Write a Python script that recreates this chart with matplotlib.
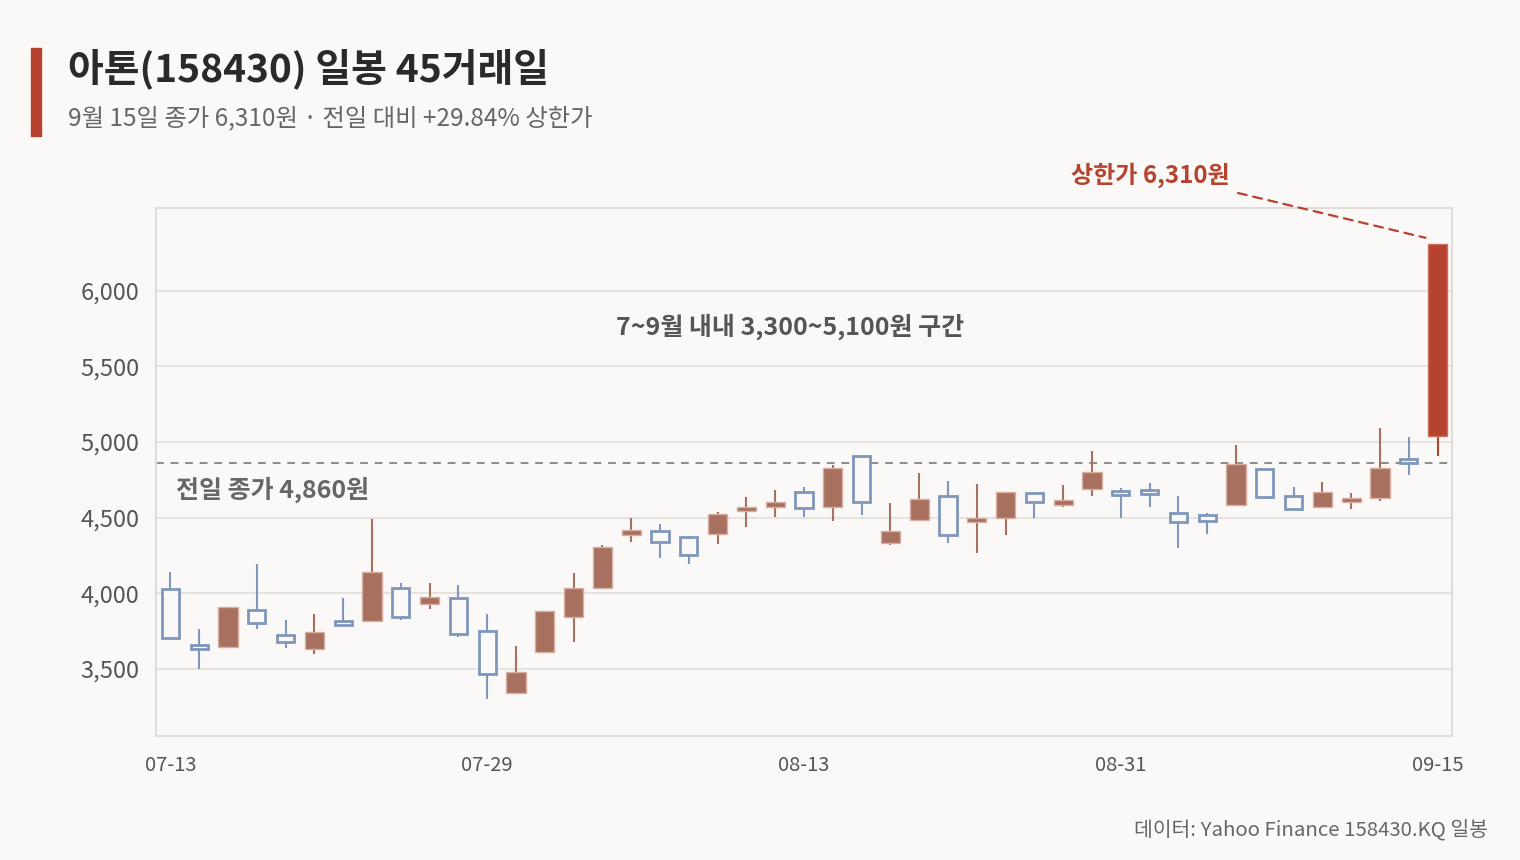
import matplotlib
matplotlib.use('Agg')
import matplotlib.pyplot as plt
from matplotlib.patches import Rectangle

plt.rcParams['font.family'] = ['Noto Sans CJK KR', 'DejaVu Sans']

# daily candles, 45 trading days
dates = ['07-13', '07-14', '07-15', '07-16', '07-20', '07-21', '07-22', '07-23', '07-24', '07-27',
         '07-28', '07-29', '07-30', '07-31', '08-03', '08-04', '08-05', '08-06', '08-07', '08-10',
         '08-11', '08-12', '08-13', '08-14', '08-18', '08-19', '08-20', '08-21', '08-24', '08-25',
         '08-26', '08-27', '08-28', '08-31', '09-01', '09-02', '09-03', '09-04', '09-07', '09-08',
         '09-09', '09-10', '09-11', '09-14', '09-15']
opens = [4025, 3655, 3645, 3890, 3720, 3630, 3815, 3815, 4035, 3930,
         3970, 3750, 3340, 3610, 3845, 4035, 4385, 4410, 4370, 4390,
         4545, 4570, 4670, 4570, 4910, 4330, 4485, 4645, 4470, 4495,
         4660, 4580, 4690, 4675, 4685, 4530, 4515, 4580, 4820, 4640,
         4570, 4605, 4630, 4885, 5040]
highs = [4140, 3765, 3905, 4190, 3825, 3860, 3970, 4490, 4070, 4065,
         4055, 3865, 3650, 3885, 4135, 4320, 4495, 4455, 4375, 4535,
         4635, 4685, 4700, 4850, 4910, 4595, 4795, 4740, 4720, 4670,
         4660, 4715, 4940, 4695, 4730, 4640, 4530, 4980, 4820, 4700,
         4735, 4660, 5095, 5035, 6310]
lows = [3690, 3495, 3645, 3760, 3635, 3595, 3790, 3815, 3825, 3895,
        3710, 3300, 3340, 3610, 3675, 4035, 4335, 4230, 4190, 4325,
        4440, 4505, 4505, 4480, 4515, 4320, 4485, 4330, 4265, 4385,
        4500, 4570, 4645, 4500, 4570, 4300, 4390, 4580, 4625, 4555,
        4565, 4555, 4610, 4780, 4910]
closes = [3705, 3630, 3905, 3805, 3675, 3745, 3790, 4140, 3845, 3975,
          3730, 3465, 3475, 3885, 4035, 4305, 4420, 4335, 4255, 4525,
          4570, 4605, 4560, 4830, 4600, 4410, 4625, 4385, 4500, 4670,
          4605, 4615, 4800, 4650, 4655, 4470, 4480, 4855, 4635, 4555,
          4670, 4630, 4830, 4860, 6310]
prev_close = 4860
limit_close = 6310
yticks = [3500, 4000, 4500, 5000, 5500, 6000]

bg = '#faf9f7'
up_c = '#a8705f'
up_edge = '#d6aea2'
down_c = '#7f97bc'
hot_c = '#b5432f'
grid_c = '#e6e3df'

fig = plt.figure(figsize=(15.2, 8.6), dpi=100, facecolor=bg)
ax = fig.add_axes([156/1520, 124/860, 1296/1520, 528/860], facecolor=bg)

w = 0.66
for i in range(len(dates)):
    o, h, l, c = opens[i], highs[i], lows[i], closes[i]
    if i == len(dates) - 1:
        col, fc, ec = hot_c, hot_c, '#c9705e'
    elif c >= o:
        col, fc, ec = up_c, up_c, up_edge
    else:
        col, fc, ec = down_c, bg, down_c
    ax.vlines(i, l, h, color=col, lw=1.5, zorder=2)
    lo, hi = min(o, c), max(o, c)
    if c >= o:
        ax.bar(i, hi - lo, bottom=lo, width=w, color=fc, edgecolor=ec, lw=1.0, zorder=3)
    else:
        ax.bar(i, hi - lo, bottom=lo, width=w - 0.06, color=fc, edgecolor=ec, lw=2.0, zorder=3)

ax.axhline(prev_close, color='#8c8c8c', lw=1.4, ls=(0, (4, 3.5)), zorder=1.5)

ax.set_xlim(-0.5, len(dates) - 0.5)
ax.set_ylim(3055, 6547)
ax.set_yticks(yticks)
ax.set_yticklabels([f'{v:,}' for v in yticks])
xt = list(range(0, len(dates), 11))
ax.set_xticks(xt)
ax.set_xticklabels([dates[k] for k in xt])
ax.tick_params(axis='both', length=0, colors='#555555')
ax.tick_params(axis='y', labelsize=17, pad=12)
ax.tick_params(axis='x', labelsize=14.5, pad=14)
ax.grid(axis='y', color=grid_c, lw=1.5, zorder=0)
ax.set_axisbelow(True)
for s in ax.spines.values():
    s.set_color('#e0ddd9')
    s.set_linewidth(1.5)

# annotations
ax.text(0.489, 0.775, '7~9월 내내 3,300~5,100원 구간', transform=ax.transAxes,
        ha='center', va='center', fontsize=18, fontweight='bold', color='#555555')
ax.text(0.0155, 0.466, f'전일 종가 {prev_close:,}원', transform=ax.transAxes,
        ha='left', va='center', fontsize=18, fontweight='bold', color='#666666')
ax.annotate('', xy=(len(dates) - 1 - 0.42, limit_close + 40), xycoords='data',
            xytext=(1238, 860 - 193), textcoords='figure pixels',
            arrowprops=dict(arrowstyle='-', color=hot_c, lw=1.6, ls=(0, (4, 3)),
                            shrinkA=0, shrinkB=0), annotation_clip=False)
fig.text(1150/1520, 1 - 183/860, f'상한가 {limit_close:,}원', ha='center', va='baseline',
         fontsize=17.3, fontweight='bold', color=hot_c)

# header
fig.patches.append(Rectangle((31/1520, 1 - 136/860), 10/1520, 88/860,
                             transform=fig.transFigure, color=hot_c))
fig.text(68/1520, 1 - 81/860, '아톤(158430) 일봉 45거래일', ha='left', va='baseline',
         fontsize=28, fontweight='bold', color='#2a2a2a')
fig.text(68/1520, 1 - 125/860, '9월 15일 종가 6,310원 · 전일 대비 +29.84% 상한가',
         ha='left', va='baseline', fontsize=17.5, color='#666666')
fig.text(1488/1520, 1 - 835/860, '데이터: Yahoo Finance 158430.KQ 일봉', ha='right',
         va='baseline', fontsize=14.7, color='#666666')

fig.savefig('out.png', dpi=100, facecolor=bg)
